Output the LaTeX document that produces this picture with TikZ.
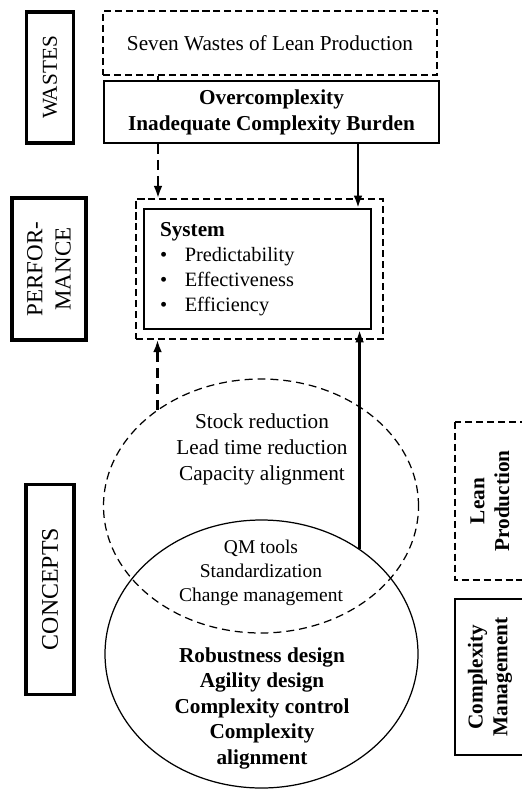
\documentclass[tikz,border=0pt]{standalone}
\usepackage{fontspec}
\setmainfont{Liberation Serif}
\usetikzlibrary{arrows.meta,shapes.geometric}
\newcommand{\pxu}{0.565pt}
\tikzset{
  sidebox/.style={draw, line width=1.7pt, rotate=90, align=center, inner sep=0pt},
  dashbox/.style={draw, dash pattern=on 4pt off 2.2pt, line width=0.9pt, align=center, inner sep=0pt},
  solidbox/.style={draw, line width=1.2pt, align=center, inner sep=0pt},
  ring/.style={ellipse, inner sep=0pt, line width=0.7pt},
  flow/.style={-{Latex[length=7pt,width=5pt]}, line width=1.3pt},
  dashflow/.style={flow, dash pattern=on 5.5pt off 3.5pt},
  txt/.style={align=center, font=\fontsize{12}{14.7}\selectfont},
}
\begin{document}
\begin{tikzpicture}[x=0.565pt, y=-0.565pt]
  \useasboundingbox (0,0) rectangle (521,789);
  % side labels
  \node[sidebox, minimum width=131*\pxu, minimum height=47*\pxu, font=\fontsize{12}{14}\selectfont] (wastes) at (50,77.5) {WASTES};
  \node[sidebox, minimum width=142*\pxu, minimum height=74*\pxu, font=\fontsize{13}{16}\selectfont] (perf) at (49,269) {PERFOR-\\MANCE};
  \node[sidebox, minimum width=210*\pxu, minimum height=48*\pxu, font=\fontsize{13.5}{16}\selectfont] (concepts) at (50,589) {CONCEPTS};
  \node[dashbox, rotate=90, minimum width=158*\pxu, minimum height=70*\pxu, font=\fontsize{12}{14}\selectfont\bfseries] (leanbox) at (490,501) {Lean\\Production};
  \node[solidbox, rotate=90, minimum width=156*\pxu, minimum height=70*\pxu, font=\fontsize{12}{14}\selectfont\bfseries] (cmbox) at (490,677) {Complexity\\Management};
  % wastes
  \node[dashbox, minimum width=334*\pxu, minimum height=64*\pxu, txt] (seven) at (270,43) {Seven Wastes of Lean Production};
  \node[solidbox, minimum width=335*\pxu, minimum height=62*\pxu, txt, font=\fontsize{12}{14.7}\selectfont\bfseries] (overc) at (271.5,112) {Overcomplexity\\Inadequate Complexity Burden};
  % performance
  \node[dashbox, minimum width=247*\pxu, minimum height=140*\pxu] (sysout) at (259.5,269) {};
  \node[solidbox, minimum width=227*\pxu, minimum height=120*\pxu, align=left, text width=195*\pxu, inner xsep=16*\pxu,
        font=\fontsize{11.5}{14}\selectfont] (sysin) at (257.5,269)
    {{\fontsize{12}{14}\selectfont\bfseries System}\\
     \makebox[14pt][l]{\textbullet}Predictability\\
     \makebox[14pt][l]{\textbullet}Effectiveness\\
     \makebox[14pt][l]{\textbullet}Efficiency};
  % concepts
  \node[ring, draw, dash pattern=on 4.5pt off 2.8pt, minimum width=315*\pxu, minimum height=254*\pxu] (lean) at (261,506) {};
  \node[ring, draw, minimum width=313*\pxu, minimum height=268*\pxu] (cm) at (261.5,654) {};
  \node[txt] (leantxt) at (262,449) {Stock reduction\\Lead time reduction\\Capacity alignment};
  \node[align=center, font=\fontsize{11}{13.5}\selectfont] (bothtxt) at (261,573) {QM tools\\Standardization\\Change management};
  \node[txt, font=\fontsize{12}{14.4}\selectfont\bfseries] (cmtxt) at (262,708) {Robustness design\\Agility design\\Complexity control\\Complexity\\alignment};
  % arrows
  \coordinate (lcol) at (158,0);
  \coordinate (rcol) at (358,0);
  \draw[line width=1.3pt, dash pattern=on 5.5pt off 3.5pt] (seven.south -| lcol) -- (overc.north -| lcol);
  \draw[dashflow] (overc.south -| lcol) -- (sysout.north -| lcol);
  \draw[flow] (overc.south -| rcol) -- (sysin.north -| rcol);
  \draw[dashflow] (lean.137) -- (sysout.south -| lean.137);
  \draw[flow] (cm.47.5) -- (sysin.south -| cm.47.5);
\end{tikzpicture}
\end{document}
